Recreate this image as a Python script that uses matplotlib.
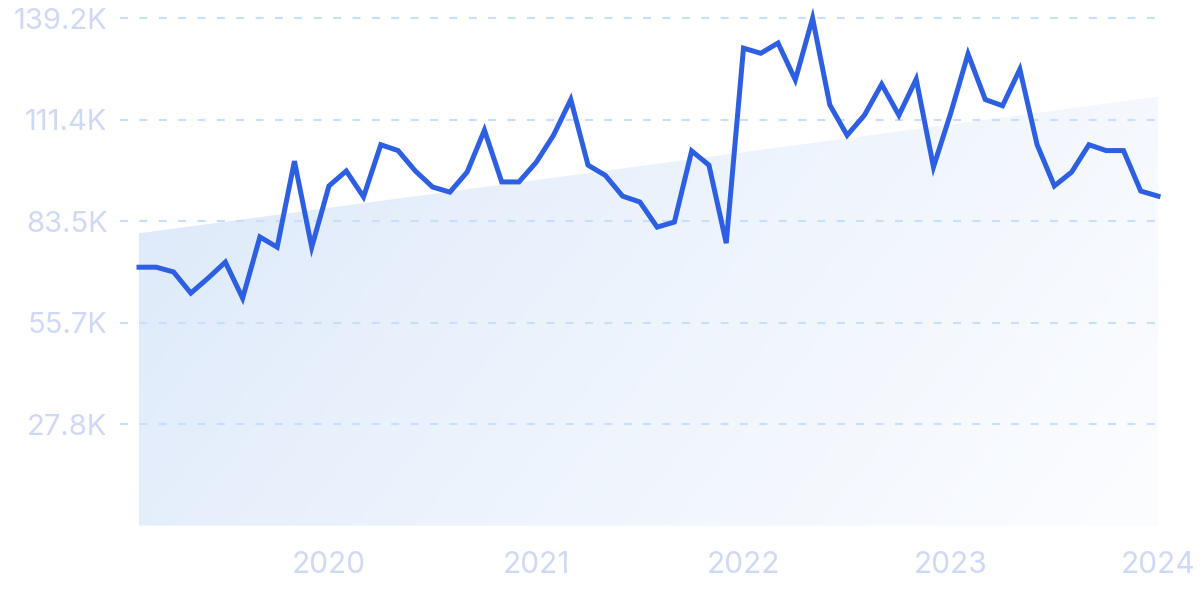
import numpy as np
import matplotlib
matplotlib.use("Agg")
import matplotlib.pyplot as plt
from matplotlib.colors import LinearSegmentedColormap

# monthly values (thousands), Feb 2019 .. Jan 2024
values = [
    70.9, 70.9, 69.6, 63.8, 67.9, 72.3, 62.4, 79.2, 76.4, 100.0, 76.4,
    93.2, 97.3, 90.2, 104.5, 102.9, 97.3, 92.9, 91.5, 97.0, 108.5, 94.3, 94.3,
    99.7, 107.1, 116.9, 98.9, 96.1, 90.4, 88.8, 81.9, 83.3, 102.8, 98.9, 77.5,
    131.0, 129.6, 132.4, 122.3, 139.2, 115.4, 107.1, 112.6, 121.1, 112.6, 122.5, 98.4,
    113.2, 129.4, 116.9, 115.2, 125.2, 104.5, 93.2, 97.0, 104.5, 102.9, 102.9, 91.8,
    90.4,
]
first_month = 2  # data starts Feb 2019
first_year = 2019
year_labels = ["2020", "2021", "2022", "2023", "2024"]
y_ticks = [27.8, 55.7, 83.5, 111.4, 139.2]
y_tick_labels = ["27.8K", "55.7K", "83.5K", "111.4K", "139.2K"]
trend_start, trend_end = 80.2, 117.7

line_color = "#2d5fe3"
label_color = "#cfd9f5"
grid_color = "#c8defc"

x = np.arange(len(values))
year_pos = [(int(y) - first_year) * 12 - (first_month - 1) for y in year_labels]

fig = plt.figure(figsize=(12, 5.99), dpi=100)
ax = fig.add_axes([0.1, 0.1225, 0.865, 0.847])

ax.set_xlim(-1.1, x[-1])
ax.set_ylim(0, 139.2)

# trend area with diagonal gradient
trend = np.array([trend_start, trend_end])
tx = np.array([x[0], x[-1]])
poly = ax.fill_between(tx, 0, trend, color="none", lw=0)
cmap = LinearSegmentedColormap.from_list("g", ["#dce9fa", "#eef4fd", "#fcfdff"])
gx, gy = np.meshgrid(np.linspace(0, 1, 300), np.linspace(0, 1, 150))
grad = 0.75 * gx + 0.25 * gy
img = ax.imshow(grad, cmap=cmap, extent=[x[0], x[-1], 0, trend_end], origin="upper",
                aspect="auto", zorder=1, vmin=0, vmax=1)
img.set_clip_path(poly.get_paths()[0], transform=ax.transData)

for yt in y_ticks:
    ax.plot([-1.1, x[-1]], [yt, yt], color=grid_color, lw=1.5, ls=(0, (3.8, 5.5)),
            zorder=2, clip_on=False)

ax.plot(x, values, color=line_color, lw=3.6, zorder=3, clip_on=False,
        solid_joinstyle="miter")

ax.set_xticks(year_pos)
ax.set_xticklabels(year_labels)
ax.set_yticks(y_ticks)
ax.set_yticklabels(y_tick_labels)
ax.tick_params(length=0, labelcolor=label_color)
ax.tick_params(axis="y", pad=9, labelsize=21)
ax.tick_params(axis="x", pad=18, labelsize=21.5)
for lab in ax.get_xticklabels() + ax.get_yticklabels():
    lab.set_family(["Inter", "DejaVu Sans"])
for s in ax.spines.values():
    s.set_visible(False)

fig.savefig("out.png", dpi=100)
